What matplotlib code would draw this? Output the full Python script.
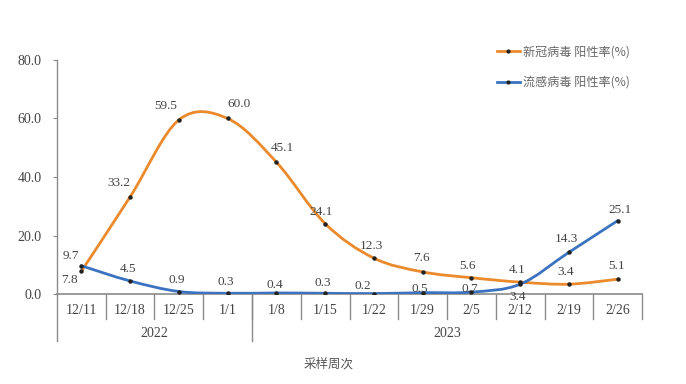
import matplotlib
matplotlib.use("Agg")
import matplotlib.pyplot as plt
from matplotlib.path import Path
from matplotlib.patches import PathPatch
from matplotlib.lines import Line2D
import numpy as np

weeks = ["12/11", "12/18", "12/25", "1/1", "1/8", "1/15", "1/22", "1/29", "2/5", "2/12", "2/19", "2/26"]
years = ["2022", "2023"]
year_sizes = [4, 8]
covid = [7.8, 33.2, 59.5, 60.0, 45.1, 24.1, 12.3, 7.6, 5.6, 4.1, 3.4, 5.1]
flu = [9.7, 4.5, 0.9, 0.3, 0.4, 0.3, 0.2, 0.5, 0.7, 3.4, 14.3, 25.1]
covid_name = "新冠病毒 阳性率(%)"
flu_name = "流感病毒 阳性率(%)"
xlabel = "采样周次"
yticks = [0, 20, 40, 60, 80]

# label offsets in pixels (style only)
covid_off = [(-12, -9), (-11, 14), (-13, 14), (11, 14), (6, 14), (-4, 12), (-2, 12),
             (-1, 14), (-4, 12), (-3, 12), (-3, 12), (-1, 13)]
flu_off = [(-10, 10), (-2, 12), (-2, 12), (-2, 11), (-2, 8), (-2, 10), (-11, 8),
           (-3, 4), (-2, 3), (-3, -13), (-3, 13), (2, 11)]

ORANGE = "#EB8A2C"
BLUE = "#3B73C1"
GRAY = "#8a8a8a"
TXT = "#444444"
SERIF = ["Liberation Serif", "DejaVu Serif"]
CJK = ["Noto Sans CJK SC", "DejaVu Sans"]

fig = plt.figure(figsize=(6.86, 3.84), dpi=100)
fig.patch.set_facecolor("white")
ax = fig.add_axes([0.083, 0.234, 0.853, 0.61])
n = len(weeks)
xs = np.arange(n) + 0.5
ax.set_xlim(0, n)
ax.set_ylim(0, 80)


def smooth_path(x, y):
    pts = np.column_stack([x, y])
    verts = [pts[0]]
    codes = [Path.MOVETO]
    for i in range(len(pts) - 1):
        p0 = pts[i - 1] if i > 0 else pts[i]
        p1 = pts[i]
        p2 = pts[i + 1]
        p3 = pts[i + 2] if i + 2 < len(pts) else pts[i + 1]
        c1 = p1 + (p2 - p0) / 6.0
        c2 = p2 - (p3 - p1) / 6.0
        verts += [c1, c2, p2]
        codes += [Path.CURVE4] * 3
    return Path(verts, codes)


for vals, col in [(covid, ORANGE), (flu, BLUE)]:
    ax.add_patch(PathPatch(smooth_path(xs, vals), facecolor="none", edgecolor=col,
                           lw=2.0, capstyle="round", joinstyle="round", zorder=3))
    ax.plot(xs, vals, ls="none", marker="o", ms=2.2, color="#222222", zorder=4)

for vals, offs in [(covid, covid_off), (flu, flu_off)]:
    for x, v, (dx, dy) in zip(xs, vals, offs):
        ax.annotate(f"{v:.1f}", (x, v), xytext=(dx, dy), textcoords="offset pixels",
                    ha="center", va="center", fontsize=9.5, color=TXT, family=SERIF,
                    zorder=5)

# axes styling
for s in ["top", "right"]:
    ax.spines[s].set_visible(False)
ax.spines["left"].set_color(GRAY)
ax.spines["bottom"].set_color(GRAY)
ax.spines["left"].set_linewidth(1.0)
ax.spines["bottom"].set_linewidth(1.2)
ax.set_yticks(yticks)
ax.set_yticklabels([f"{t:.1f}" for t in yticks], family=SERIF, fontsize=10, color=TXT)
ax.tick_params(axis="y", length=3, color=GRAY, pad=8)
ax.set_xticks([])

trans = ax.get_xaxis_transform()
# category separators
for b in range(1, n + 1):
    ax.plot([b, b], [0, -0.105], transform=trans, color=GRAY, lw=1.0, clip_on=False)
# group separators (long)
start = 0
for sz in year_sizes:
    ax.plot([start, start], [0, -0.20], transform=trans, color=GRAY, lw=1.0, clip_on=False)
    start += sz
for x, w in zip(xs, weeks):
    ax.text(x, -0.068, w, transform=trans, ha="center", va="center", fontsize=10,
            color=TXT, family=SERIF)
start = 0
for yname, sz in zip(years, year_sizes):
    ax.text(start + sz / 2 - 0.0, -0.168, yname, transform=trans, ha="center",
            va="center", fontsize=10, color=TXT, family=SERIF)
    start += sz
ax.text(0.465, -0.297, xlabel, transform=ax.transAxes, ha="center", va="center",
        fontsize=9, color="#555555", family=CJK)

handles = [Line2D([], [], color=ORANGE, lw=2, marker="o", ms=2, mfc="#222", mec="#222"),
           Line2D([], [], color=BLUE, lw=2, marker="o", ms=2, mfc="#222", mec="#222")]
leg = fig.legend(handles, [covid_name, flu_name], loc="upper left",
                 bbox_to_anchor=(0.708, 0.91), frameon=False, handlelength=1.9,
                 handletextpad=0.3, labelspacing=1.45, prop={"family": CJK, "size": 8.7})
for t in leg.get_texts():
    t.set_color("#666666")

fig.savefig("out.png", dpi=100, facecolor="white")
